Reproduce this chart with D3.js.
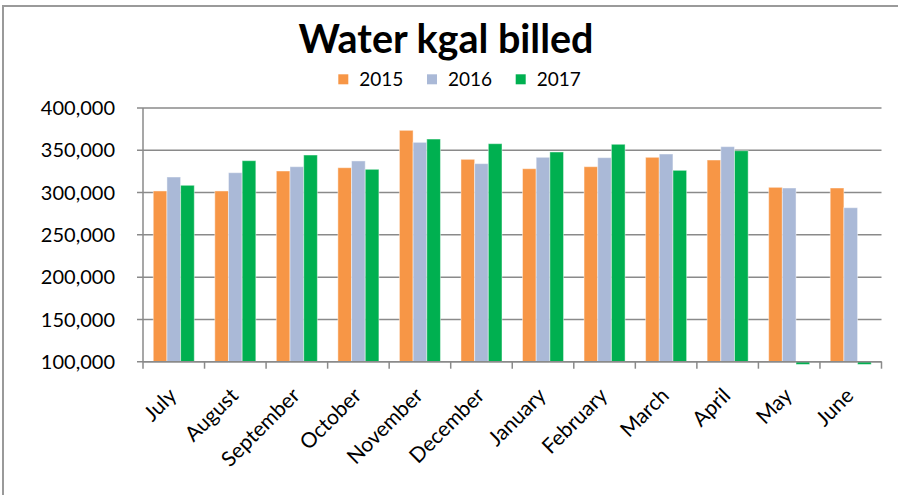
<!DOCTYPE html>
<html>
<head>
<meta charset="utf-8">
<script src="https://cdn.jsdelivr.net/npm/d3@7"></script>
<style>
  body { margin: 0; background: #fff; }
  text { font-family: Lato, "Open Sans", sans-serif; fill: #000; }
</style>
</head>
<body>
<div id="chart"></div>
<script>
// data
const months = ["July", "August", "September", "October", "November", "December",
                "January", "February", "March", "April", "May", "June"];
const years = ["2015", "2016", "2017"];
const v2015 = [301900, 301900, 325500, 329400, 373600, 339300, 328200, 330600, 341700, 338500, 306200, 305400];
const v2016 = [318400, 323500, 330600, 337400, 359400, 334200, 341700, 341300, 345600, 354300, 305400, 282100];
const v2017 = [308600, 337700, 344400, 327500, 363300, 357800, 348000, 357100, 326300, 349500, 0, 0];
const yTicks = [100000, 150000, 200000, 250000, 300000, 350000, 400000];

const colors = ["#f79646", "#aab9d7", "#00b050"];
const series = [v2015, v2016, v2017];

// constants
const width = 898, height = 495;
const plotL = 143, plotR = 881.5, plotT = 108, plotB = 361.7;

const svg = d3.select("#chart")
  .append("svg")
  .attr("width", width)
  .attr("height", height);

// outer chart border (right/bottom run off the picture)
svg.append("rect")
  .attr("x", 3).attr("y", 6)
  .attr("width", width + 10).attr("height", height + 10)
  .attr("fill", "none")
  .attr("stroke", "#9a9a9a")
  .attr("stroke-width", 2);

// scales
const x0 = d3.scaleBand().domain(months).range([plotL, plotR]).padding(0);
const x1 = d3.scaleBand().domain(years).range([0, x0.bandwidth()])
  .paddingInner(0).paddingOuter(0.75);
const y = d3.scaleLinear().domain([100000, 400000]).range([plotB, plotT]);

// gridlines
svg.append("g")
  .selectAll("line")
  .data(yTicks)
  .enter().append("line")
    .attr("x1", plotL - 6).attr("x2", plotR)
    .attr("y1", d => y(d)).attr("y2", d => y(d))
    .attr("stroke", "#8a8a8a")
    .attr("stroke-width", 1.5);

// y labels
svg.append("g")
  .selectAll("text")
  .data(yTicks)
  .enter().append("text")
    .attr("x", 115)
    .attr("y", d => y(d))
    .attr("dy", "0.36em")
    .attr("text-anchor", "end")
    .attr("font-size", 20)
    .text(d => d3.format(",")(d));

// clip so zero values show only a sliver under the axis
svg.append("clipPath").attr("id", "plot")
  .append("rect")
    .attr("x", plotL).attr("y", plotT - 30)
    .attr("width", plotR - plotL).attr("height", plotB - plotT + 32.5);

// bars
const groups = svg.append("g")
    .attr("clip-path", "url(#plot)")
  .selectAll("g")
  .data(months)
  .enter().append("g")
    .attr("transform", d => `translate(${x0(d)},0)`);

groups.selectAll("rect")
  .data((m, i) => series.map((s, k) => ({year: years[k], value: s[i], k: k})))
  .enter().append("rect")
    .attr("x", d => x1(d.year))
    .attr("width", x1.bandwidth())
    .attr("y", d => Math.min(y(d.value), y(100000)))
    .attr("height", d => Math.abs(y(d.value) - y(100000)))
    .attr("fill", d => colors[d.k])
    .attr("stroke", "rgba(255,255,255,0.45)")
    .attr("stroke-width", 1);

// axes lines
svg.append("line")
  .attr("x1", plotL).attr("x2", plotL)
  .attr("y1", plotT).attr("y2", plotB)
  .attr("stroke", "#8a8a8a").attr("stroke-width", 1.5);
svg.append("line")
  .attr("x1", plotL).attr("x2", plotR)
  .attr("y1", plotB).attr("y2", plotB)
  .attr("stroke", "#8a8a8a").attr("stroke-width", 1.5);

// x ticks
const xTickPos = months.map(m => x0(m)).concat([plotR]);
svg.append("g")
  .selectAll("line")
  .data(xTickPos)
  .enter().append("line")
    .attr("x1", d => d).attr("x2", d => d)
    .attr("y1", plotB).attr("y2", plotB + 7)
    .attr("stroke", "#8a8a8a").attr("stroke-width", 1.5);

// x labels, rotated
svg.append("g")
  .selectAll("text")
  .data(months)
  .enter().append("text")
    .attr("transform", d => `translate(${x0(d) + x0.bandwidth() / 2 - 1},${plotB + 30}) rotate(-45)`)
    .attr("text-anchor", "end")
    .attr("dy", "0.35em")
    .attr("font-size", 21)
    .text(d => d);

// title
svg.append("text")
  .attr("x", 446)
  .attr("y", 53)
  .attr("text-anchor", "middle")
  .attr("font-size", 39.5)
  .attr("font-weight", "bold")
  .text("Water kgal billed");

// legend
const legend = svg.append("g")
  .selectAll("g")
  .data(years)
  .enter().append("g")
    .attr("transform", (d, i) => `translate(${338.3 + i * 88.7},74.3)`);

legend.append("rect")
  .attr("width", 10).attr("height", 10)
  .attr("fill", (d, i) => colors[i]);

legend.append("text")
  .attr("x", 21)
  .attr("y", 12)
  .attr("font-size", 19)
  .text(d => d);
</script>
</body>
</html>
